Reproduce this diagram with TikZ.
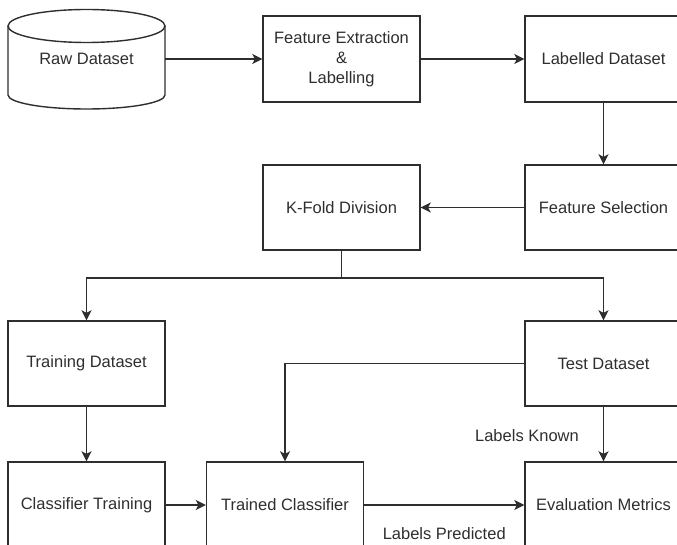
\documentclass[tikz,border=0pt]{standalone}
\usepackage{fontspec}
\setmainfont{Liberation Sans}
\usetikzlibrary{arrows.meta}
\definecolor{ink}{HTML}{2E2E2E}
\begin{document}
\begin{tikzpicture}[x=1pt,y=-1pt,
  every node/.style={text=ink, font=\fontsize{16.5}{20}\selectfont},
  box/.style={draw=ink, line width=1.4pt, minimum width=157pt, minimum height=86pt, inner sep=0pt, align=center},
  arr/.style={draw=ink, line width=1.4pt, -{Stealth[length=10pt,width=10pt,inset=2.5pt]}},
  lbl/.style={inner sep=1pt}]
\path[use as bounding box] (0,0) rectangle (677,545);
\clip (0,0) rectangle (677,545);
% cylinder
\draw[ink, line width=1.4pt] (8,26) -- (8,95) arc[start angle=180, end angle=360, x radius=78.5, y radius=-14] -- (165,26);
\draw[ink, line width=1.4pt] (86.5,26) ellipse[x radius=78.5, y radius=16.5];
\node[minimum width=157pt, minimum height=100pt, inner sep=0pt] (raw) at (86.5,59) {Raw Dataset};
\node[box] (fe) at (341.5,59) {Feature Extraction\\\&\\Labelling};
\node[box] (ld) at (603.5,59) {Labelled Dataset};
\node[box, minimum height=85pt] (fs) at (603.5,207.5) {Feature Selection};
\node[box, minimum height=85pt] (kf) at (341.5,207.5) {K-Fold Division};
\node[box, minimum height=85pt] (td) at (86.5,363.5) {Training Dataset};
\node[box, minimum height=85pt] (ts) at (603.5,363.5) {Test Dataset};
\node[box] (ct) at (86.5,505) {Classifier Training};
\node[box] (tc) at (285,505) {Trained Classifier};
\node[box] (em) at (603.5,505) {Evaluation Metrics};
\coordinate (split) at (341.5,278);
\draw[arr] (raw.east) -- (fe.west);
\draw[arr] (fe.east) -- (ld.west);
\draw[arr] (ld.south) -- (fs.north);
\draw[arr] (fs.west) -- (kf.east);
\draw[draw=ink, line width=1.4pt] (kf.south) -- (split);
\draw[arr] (split) -| (td.north);
\draw[arr] (split) -| (ts.north);
\draw[arr] (ts.west) -| (tc.north);
\draw[arr] (td.south) -- (ct.north);
\draw[arr] (ts.south) -- node[lbl, anchor=east, xshift=-23pt, yshift=-1.5pt] {Labels Known} (em.north);
\draw[arr] (ct.east) -- (tc.west);
\draw[arr] (tc.east) -- node[lbl, below, yshift=-21pt] {Labels Predicted} (em.west);
\end{tikzpicture}
\end{document}
